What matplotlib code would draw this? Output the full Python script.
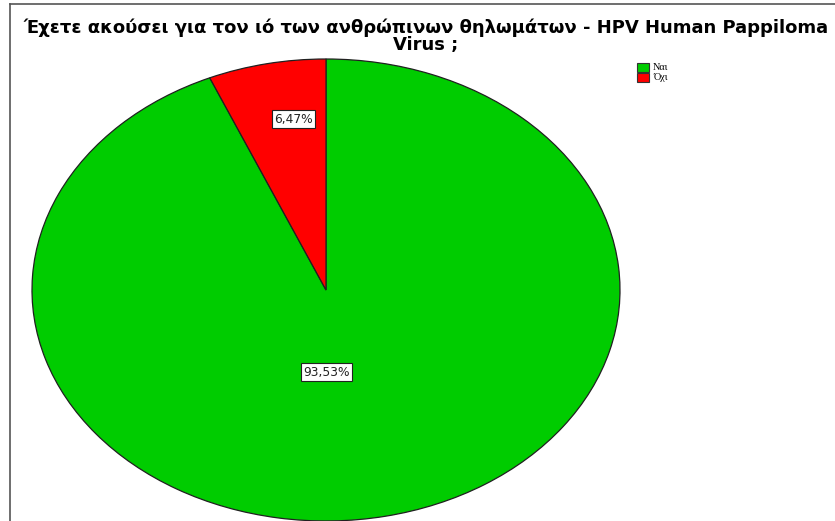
import matplotlib
matplotlib.use("Agg")
import matplotlib.pyplot as plt
from matplotlib.lines import Line2D
from matplotlib.patches import Rectangle

title = "Έχετε ακούσει για τον ιό των ανθρώπινων θηλωμάτων - HPV Human Pappiloma\nVirus ;"
categories = ["Ναι", "Όχι"]
percentages = [93.53, 6.47]
colors = ["#00CC00", "#FF0000"]

W, H = 835, 521
fig = plt.figure(figsize=(W / 100, H / 100), dpi=100)
fig.patch.set_facecolor("white")

def px(x0, y0, x1, y1):
    return [x0 / W, 1 - y1 / H, (x1 - x0) / W, (y1 - y0) / H]

# Frame lines along the top and left edges
fig.add_artist(Line2D([10 / W, 10 / W], [0, 1 - 4 / H], color="#555555", lw=1.2))
fig.add_artist(Line2D([10 / W, 1], [1 - 4 / H, 1 - 4 / H], color="#555555", lw=1.2))

fig.text(426 / W, 1 - 36 / H, title, ha="center", va="center",
         fontsize=13, fontweight="bold", family="DejaVu Sans",
         linespacing=0.92)

ax = fig.add_axes(px(32, 59, 620, 521))
wedges, _ = ax.pie(percentages, colors=colors, startangle=90, counterclock=False,
                   wedgeprops=dict(edgecolor="#202020", linewidth=0.9))
ax.set_aspect("auto")
ax.set_xlim(-1, 1)
ax.set_ylim(-1, 1)
ax.axis("off")

# Percentage labels in boxes
label_pos = [(0.003, -0.355), (-0.112, 0.74)]
for (lx, ly), val in zip(label_pos, percentages):
    ax.text(lx, ly, f"{val:.2f}%".replace(".", ","), ha="center", va="center",
            fontsize=8.8, family="DejaVu Sans", color="#222222",
            bbox=dict(boxstyle="square,pad=0.18", facecolor="white",
                      edgecolor="#222222", linewidth=0.8))

# Legend
for i, (cat, c) in enumerate(zip(categories, colors)):
    y0 = 63 + i * 10
    fig.add_artist(Rectangle((637 / W, 1 - (y0 + 9) / H), 12 / W, 9 / H,
                             facecolor=c, edgecolor="#333333", linewidth=0.8,
                             transform=fig.transFigure))
    fig.text(653 / W, 1 - (y0 + 4.5) / H, cat, ha="left", va="center",
             fontsize=7.3, family="Liberation Serif")

fig.savefig("out.png", dpi=100, facecolor="white")
